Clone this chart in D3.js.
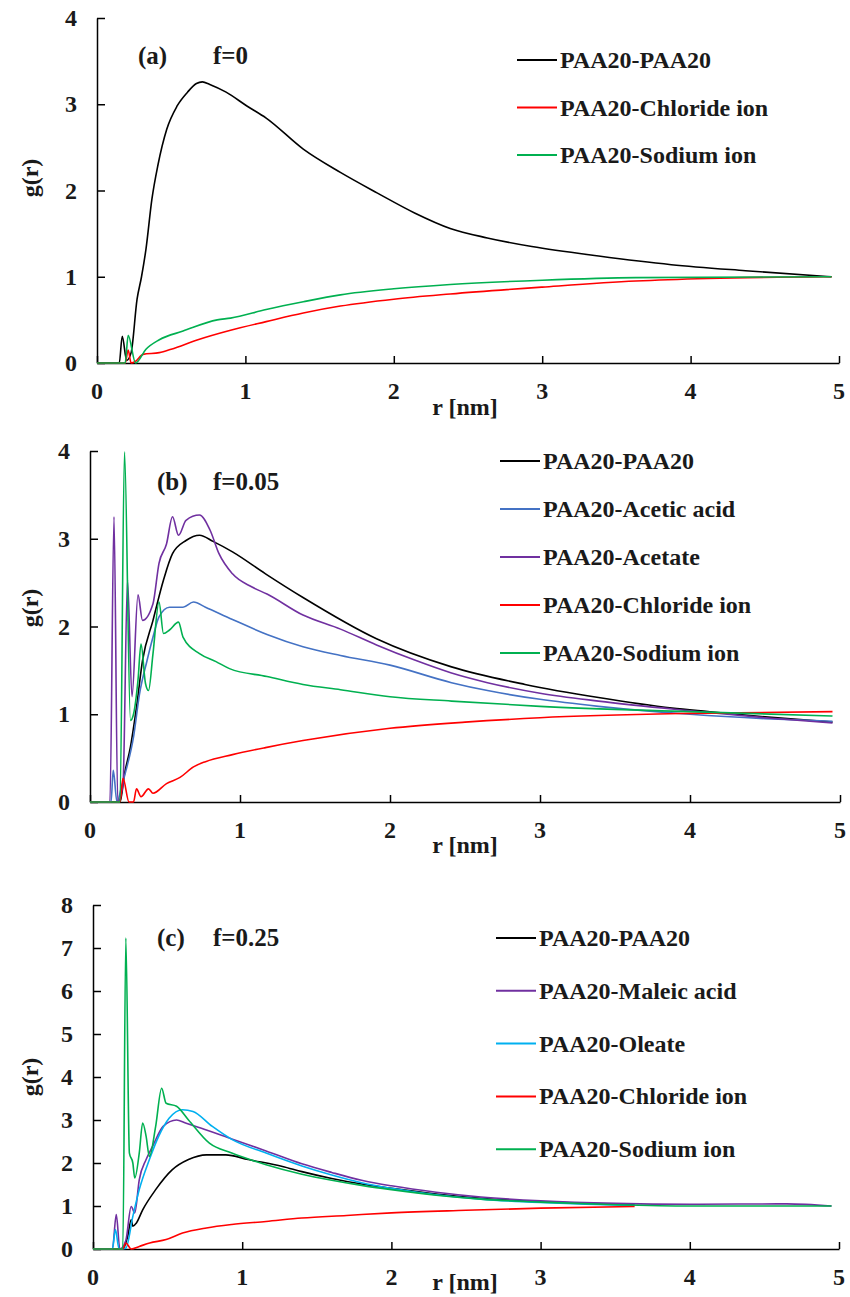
<!DOCTYPE html>
<html>
<head>
<meta charset="utf-8">
<script src="https://cdnjs.cloudflare.com/ajax/libs/d3/7.8.5/d3.min.js"></script>
<style>
  body { margin: 0; background: #fff; }
  text { font-family: "Liberation Serif", "Times New Roman", serif; font-weight: bold; fill: #1a1a1a; }
</style>
</head>
<body>
<script>
// ---------- data: [r (nm), g(r)] ----------
var aPAA      = [[0,0],[0.15,0],[0.17,0.31],[0.20,0.03],[0.23,0.12],[0.27,0.74],[0.30,1.0],[0.33,1.32],[0.37,1.9],[0.41,2.29],[0.47,2.71],[0.54,2.98],[0.61,3.14],[0.67,3.24],[0.71,3.26],[0.76,3.23],[0.87,3.14],[1.01,2.98],[1.14,2.84],[1.39,2.48],[1.64,2.21],[1.89,1.97],[2.14,1.74],[2.38,1.56],[2.63,1.45],[2.93,1.35],[3.38,1.24],[3.87,1.14],[4.37,1.07],[4.95,1.0]];
var aChloride = [[0,0],[0.19,0],[0.21,0.15],[0.23,0],[0.26,0.02],[0.31,0.1],[0.42,0.12],[0.50,0.16],[0.68,0.27],[0.9,0.38],[1.14,0.48],[1.39,0.58],[1.64,0.66],[2.0,0.74],[2.38,0.8],[3.0,0.88],[3.63,0.95],[4.12,0.98],[4.95,1.0]];
var aSodium   = [[0,0],[0.19,0],[0.21,0.32],[0.26,0],[0.33,0.16],[0.42,0.27],[0.58,0.37],[0.81,0.5],[0.9,0.52],[1.14,0.62],[1.39,0.71],[1.64,0.79],[2.0,0.86],[2.38,0.91],[3.0,0.96],[3.63,0.99],[4.95,1.0]];

var bPAA      = [[0,0],[0.2,0],[0.23,0.32],[0.27,0.63],[0.31,1.08],[0.35,1.61],[0.42,2.07],[0.49,2.53],[0.55,2.83],[0.64,2.98],[0.73,3.04],[0.82,2.97],[0.95,2.85],[1.17,2.6],[1.42,2.33],[1.91,1.86],[2.41,1.54],[2.9,1.34],[3.39,1.19],[3.88,1.07],[4.12,1.03],[4.5,0.97],[4.95,0.91]];
var bAcetic   = [[0,0],[0.14,0],[0.155,0.36],[0.18,0],[0.21,0.17],[0.24,0.36],[0.29,0.74],[0.33,1.23],[0.38,1.61],[0.42,1.88],[0.46,2.11],[0.53,2.22],[0.62,2.22],[0.69,2.28],[0.77,2.22],[0.95,2.08],[1.18,1.91],[1.42,1.77],[1.67,1.67],[2.0,1.56],[2.41,1.36],[2.65,1.27],[3.0,1.17],[3.39,1.09],[4.0,1.0],[4.5,0.95],[4.95,0.92]];
var bAcetate  = [[0,0],[0.133,0],[0.16,3.25],[0.185,0],[0.22,0.2],[0.25,2.53],[0.28,1.2],[0.32,2.36],[0.35,2.07],[0.42,2.26],[0.46,2.72],[0.51,2.94],[0.55,3.25],[0.59,3.04],[0.64,3.21],[0.73,3.27],[0.80,3.1],[0.86,2.83],[0.95,2.6],[1.08,2.45],[1.18,2.37],[1.42,2.13],[1.67,1.97],[1.91,1.79],[2.16,1.62],[2.41,1.47],[2.65,1.36],[3.0,1.24],[3.39,1.15],[4.0,1.04],[4.5,0.96],[4.95,0.9]];
var bChloride = [[0,0],[0.2,0],[0.22,0.27],[0.26,0],[0.29,0],[0.31,0.15],[0.34,0.06],[0.39,0.15],[0.42,0.1],[0.51,0.21],[0.60,0.28],[0.69,0.4],[0.77,0.46],[0.95,0.54],[1.17,0.62],[1.42,0.7],[2.0,0.84],[2.5,0.91],[3.0,0.96],[4.0,1.01],[4.95,1.03]];
var bSodium   = [[0,0],[0.2,0],[0.23,3.99],[0.27,0.93],[0.29,1.0],[0.32,1.39],[0.34,1.8],[0.37,1.35],[0.39,1.27],[0.42,1.69],[0.46,2.28],[0.49,1.92],[0.53,1.96],[0.59,2.05],[0.62,1.88],[0.73,1.69],[0.84,1.6],[0.93,1.52],[1.18,1.43],[1.42,1.34],[1.67,1.28],[2.0,1.2],[2.41,1.15],[3.0,1.09],[4.0,1.03],[4.95,0.98]];

var cPAA      = [[0,0],[0.2,0],[0.233,0.3],[0.256,0.68],[0.267,0.53],[0.29,0.6],[0.333,0.91],[0.42,1.38],[0.53,1.84],[0.64,2.08],[0.76,2.19],[0.89,2.19],[1.04,2.08],[1.27,1.92],[1.4,1.8],[1.6,1.64],[1.8,1.51],[2.0,1.41],[2.3,1.28],[2.6,1.18],[3.0,1.1],[3.3,1.06],[3.63,1.03]];
var cMaleic   = [[0,0],[0.13,0],[0.156,0.8],[0.18,0],[0.22,0.2],[0.256,0.99],[0.28,0.84],[0.31,1.61],[0.356,2.08],[0.4,2.39],[0.47,2.85],[0.56,3.0],[0.62,2.93],[0.76,2.77],[0.93,2.56],[1.16,2.28],[1.4,1.98],[1.6,1.78],[1.8,1.6],[2.0,1.47],[2.3,1.32],[2.6,1.21],[3.0,1.12],[3.5,1.06],[4.0,1.04],[4.65,1.05],[4.95,1.0]];
var cOleate   = [[0,0],[0.13,0],[0.15,0.45],[0.175,0],[0.22,0.02],[0.267,0.76],[0.31,1.38],[0.378,2.08],[0.44,2.62],[0.51,3.04],[0.6,3.24],[0.67,3.2],[0.8,2.85],[0.93,2.55],[1.16,2.23],[1.4,1.93],[1.6,1.72],[1.8,1.54],[2.0,1.41],[2.3,1.26],[2.6,1.16],[3.0,1.08],[3.3,1.04],[3.63,1.01]];
var cChloride = [[0,0],[0.2,0],[0.22,0.14],[0.256,0],[0.31,0.06],[0.38,0.14],[0.49,0.22],[0.6,0.37],[0.76,0.49],[0.93,0.57],[1.16,0.64],[1.4,0.72],[1.7,0.78],[2.0,0.84],[2.5,0.9],[3.0,0.95],[3.63,0.99]];
var cSodium   = [[0,0],[0.2,0],[0.22,7.23],[0.244,2.23],[0.267,2.0],[0.28,1.65],[0.31,2.23],[0.333,2.93],[0.356,2.62],[0.378,2.15],[0.42,2.85],[0.46,3.74],[0.49,3.39],[0.56,3.32],[0.64,3.0],[0.78,2.46],[0.93,2.23],[1.16,1.96],[1.4,1.74],[1.6,1.6],[1.8,1.48],[2.0,1.38],[2.3,1.25],[2.6,1.16],[3.0,1.09],[3.5,1.03],[4.0,1.0],[4.95,1.0]];

var namesA = ['PAA20-PAA20','PAA20-Chloride ion','PAA20-Sodium ion'];
var namesB = ['PAA20-PAA20','PAA20-Acetic acid','PAA20-Acetate','PAA20-Chloride ion','PAA20-Sodium ion'];
var namesC = ['PAA20-PAA20','PAA20-Maleic acid','PAA20-Oleate','PAA20-Chloride ion','PAA20-Sodium ion'];

var xTicks  = [0,1,2,3,4,5];
var yTicksA = [0,1,2,3,4];
var yTicksB = [0,1,2,3,4];
var yTicksC = [0,1,2,3,4,5,6,7,8];

var BLACK = '#000000', RED = '#ff0000', GREEN = '#00b050', BLUE = '#4472c4', PURPLE = '#7030a0', CYAN = '#00b0f0';

var svg = d3.select('body').append('svg')
            .attr('width', 850)
            .attr('height', 1297);

function drawPanel(p){
  var x = d3.scaleLinear().domain([0,5]).range([p.x0, p.x1]);
  var y = d3.scaleLinear().domain([0, p.ymax]).range([p.y0, p.y1]);
  var g = svg.append('g');

  // axes, ticks pointing inward
  g.append('g').attr('transform','translate(0,'+p.y0+')')
   .call(d3.axisBottom(x).tickValues(xTicks).tickSizeInner(-7).tickSizeOuter(0).tickFormat(''));
  g.append('g').attr('transform','translate('+p.x0+',0)')
   .call(d3.axisLeft(y).tickValues(p.yTicks).tickSizeInner(-8).tickSizeOuter(0).tickFormat(''));
  g.selectAll('.domain, .tick line').attr('stroke','#000').attr('stroke-width',1.5);

  g.selectAll('.xl').data(xTicks).enter().append('text')
   .attr('x', function(d){return x(d);}).attr('y', p.y0 + 36)
   .attr('text-anchor','middle').attr('font-size',24).text(function(d){return d;});
  g.selectAll('.yl').data(p.yTicks).enter().append('text')
   .attr('x', p.x0 - 20).attr('y', function(d){return y(d) + 8;})
   .attr('text-anchor','end').attr('font-size',24).text(function(d){return d;});

  g.append('text').attr('x', 465).attr('y', p.ry).attr('text-anchor','middle')
   .attr('font-size',24).text('r [nm]');
  g.append('text').attr('transform','translate(38,'+p.gy+') rotate(-90)')
   .attr('text-anchor','middle').attr('font-size',24).text('g(r)');

  g.append('text').attr('x', p.lx).attr('y', p.ly).attr('font-size',25).text(p.label);
  g.append('text').attr('x', 213).attr('y', p.ly).attr('font-size',25).text(p.f);

  // series
  var line = d3.line().x(function(d){return x(d[0]);}).y(function(d){return y(d[1]);})
               .curve(d3.curveMonotoneX);
  p.series.forEach(function(s){
    g.append('path').attr('d', line(s.data)).attr('fill','none')
     .attr('stroke', s.color).attr('stroke-width',1.6).attr('stroke-linejoin','round');
  });

  // legend
  p.series.forEach(function(s, i){
    var cy = p.legY + i*p.legStep;
    g.append('line').attr('x1', p.legX).attr('x2', p.legX + 40).attr('y1', cy).attr('y2', cy)
     .attr('stroke', s.color).attr('stroke-width',2);
    g.append('text').attr('x', p.legX + 43).attr('y', cy + 8).attr('font-size',24).text(s.name);
  });
}

drawPanel({
  x0:97, x1:839, y0:363, y1:18, ymax:4, yTicks:yTicksA, gy:178, ry:415,
  label:'(a)', f:'f=0', lx:138, ly:64,
  legX:517, legY:60, legStep:47.5,
  series:[{name:namesA[0],data:aPAA,color:BLACK},
          {name:namesA[1],data:aChloride,color:RED},
          {name:namesA[2],data:aSodium,color:GREEN}]
});

drawPanel({
  x0:90, x1:840, y0:802, y1:451, ymax:4, yTicks:yTicksB, gy:608, ry:853,
  label:'(b)', f:'f=0.05', lx:157, ly:490,
  legX:500, legY:461, legStep:48,
  series:[{name:namesB[0],data:bPAA,color:BLACK},
          {name:namesB[1],data:bAcetic,color:BLUE},
          {name:namesB[2],data:bAcetate,color:PURPLE},
          {name:namesB[3],data:bChloride,color:RED},
          {name:namesB[4],data:bSodium,color:GREEN}]
});

drawPanel({
  x0:93, x1:839, y0:1249, y1:905, ymax:8, yTicks:yTicksC, gy:1077, ry:1290,
  label:'(c)', f:'f=0.25', lx:157, ly:946,
  legX:496, legY:938, legStep:52.8,
  series:[{name:namesC[0],data:cPAA,color:BLACK},
          {name:namesC[1],data:cMaleic,color:PURPLE},
          {name:namesC[2],data:cOleate,color:CYAN},
          {name:namesC[3],data:cChloride,color:RED},
          {name:namesC[4],data:cSodium,color:GREEN}]
});
</script>
</body>
</html>
